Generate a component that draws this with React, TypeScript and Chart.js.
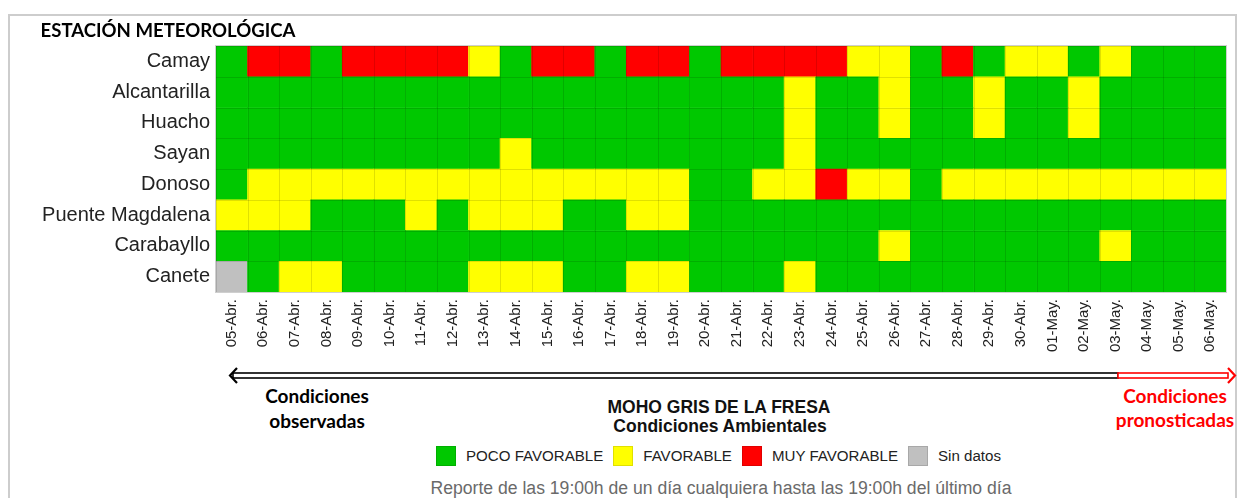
import React, { useEffect, useRef } from 'react';
import { Chart, registerables } from 'chart.js';

Chart.register(...registerables);

const dates = [
  '05-Abr.', '06-Abr.', '07-Abr.', '08-Abr.', '09-Abr.', '10-Abr.', '11-Abr.', '12-Abr.',
  '13-Abr.', '14-Abr.', '15-Abr.', '16-Abr.', '17-Abr.', '18-Abr.', '19-Abr.', '20-Abr.',
  '21-Abr.', '22-Abr.', '23-Abr.', '24-Abr.', '25-Abr.', '26-Abr.', '27-Abr.', '28-Abr.',
  '29-Abr.', '30-Abr.', '01-May.', '02-May.', '03-May.', '04-May.', '05-May.', '06-May.',
];

// top-to-bottom order as shown
const stations = ['Camay', 'Alcantarilla', 'Huacho', 'Sayan', 'Donoso', 'Puente Magdalena', 'Carabayllo', 'Canete'];

// 0 = POCO FAVORABLE, 1 = FAVORABLE, 2 = MUY FAVORABLE, 3 = Sin datos
const camay =        [0,2,2,0,2,2,2,2,1,0,2,2,0,2,2,0,2,2,2,2,1,1,0,2,0,1,1,0,1,0,0,0];
const alcantarilla = [0,0,0,0,0,0,0,0,0,0,0,0,0,0,0,0,0,0,1,0,0,1,0,0,1,0,0,1,0,0,0,0];
const huacho =       [0,0,0,0,0,0,0,0,0,0,0,0,0,0,0,0,0,0,1,0,0,1,0,0,1,0,0,1,0,0,0,0];
const sayan =        [0,0,0,0,0,0,0,0,0,1,0,0,0,0,0,0,0,0,1,0,0,0,0,0,0,0,0,0,0,0,0,0];
const donoso =       [0,1,1,1,1,1,1,1,1,1,1,1,1,1,1,0,0,1,1,2,1,1,0,1,1,1,1,1,1,1,1,1];
const puenteMagdalena = [1,1,1,0,0,0,1,0,1,1,1,0,0,1,1,0,0,0,0,0,0,0,0,0,0,0,0,0,0,0,0,0];
const carabayllo =   [0,0,0,0,0,0,0,0,0,0,0,0,0,0,0,0,0,0,0,0,0,1,0,0,0,0,0,0,1,0,0,0];
const canete =       [3,0,1,1,0,0,0,0,1,1,1,0,0,1,1,0,0,0,1,0,0,0,0,0,0,0,0,0,0,0,0,0];

const statusRows = [camay, alcantarilla, huacho, sayan, donoso, puenteMagdalena, carabayllo, canete];

const statusNames = ['POCO FAVORABLE', 'FAVORABLE', 'MUY FAVORABLE', 'Sin datos'];
const statusColors = ['#00C800', '#FFFF00', '#FF0000', '#C0C0C0'];

const cellLines = {
  id: 'cellLines',
  afterDatasetsDraw(chart: any) {
    const { ctx, chartArea, scales } = chart;
    ctx.save();
    ctx.strokeStyle = 'rgba(0,0,0,0.12)';
    ctx.lineWidth = 1;
    ctx.beginPath();
    for (let i = 0; i <= stations.length; i++) {
      const y = Math.round(scales.y.getPixelForValue(i)) + 0.5;
      ctx.moveTo(chartArea.left, y);
      ctx.lineTo(chartArea.right, y);
    }
    for (let i = 0; i <= dates.length; i++) {
      const x = Math.round(scales.x.getPixelForValue(i - 0.5)) + 0.5;
      ctx.moveTo(x, chartArea.top);
      ctx.lineTo(x, chartArea.bottom);
    }
    ctx.stroke();
    ctx.strokeStyle = '#cfcfcf';
    ctx.strokeRect(chartArea.left - 0.5, chartArea.top - 0.5, chartArea.right - chartArea.left + 1, chartArea.bottom - chartArea.top + 1);
    ctx.restore();
  },
};

function HeatChart() {
  const ref = useRef<HTMLCanvasElement | null>(null);
  useEffect(() => {
    if (!ref.current) return;
    const bottomUp = stations.slice().reverse();
    const rowsBottomUp = statusRows.slice().reverse();
    const chart = new Chart(ref.current, {
      type: 'bar',
      data: {
        labels: dates,
        datasets: bottomUp.map((name, i) => ({
          label: name,
          data: dates.map(() => 1),
          backgroundColor: rowsBottomUp[i].map((s) => statusColors[s]),
          borderWidth: 0,
          barPercentage: 1,
          categoryPercentage: 1,
        })),
      },
      options: {
        responsive: false,
        animation: false,
        events: [],
        layout: { padding: { top: 46, right: 12, left: 0, bottom: 0 } },
        plugins: { legend: { display: false }, tooltip: { enabled: false }, title: { display: false } },
        scales: {
          x: {
            stacked: true,
            grid: { display: false, drawTicks: false },
            border: { display: false },
            ticks: {
              minRotation: 90,
              maxRotation: 90,
              autoSkip: false,
              padding: 7,
              color: '#222',
              font: { family: 'Liberation Sans, Arial, sans-serif', size: 15 },
            },
            afterFit: (scale: any) => { scale.height = 68; },
          },
          y: {
            stacked: true,
            min: 0,
            max: stations.length,
            grid: { display: false, drawTicks: false },
            border: { display: false },
            afterBuildTicks: (scale: any) => {
              scale.ticks = bottomUp.map((_, i) => ({ value: i + 0.5 }));
            },
            ticks: {
              padding: 6,
              color: '#222',
              font: { family: 'Liberation Sans, Arial, sans-serif', size: 20 },
              callback: (value: any) => bottomUp[Math.floor(Number(value))],
            },
            afterFit: (scale: any) => { scale.width = 216; },
          },
        },
      },
      plugins: [cellLines],
    });
    return () => chart.destroy();
  }, []);
  return <canvas ref={ref} width={1238} height={360} style={{ position: 'absolute', left: 0, top: 0 }} />;
}

const centered = (x: number, y: number, extra: React.CSSProperties): React.CSSProperties => ({
  position: 'absolute',
  left: x,
  top: y,
  transform: 'translate(-50%, -50%)',
  whiteSpace: 'nowrap',
  lineHeight: 1,
  ...extra,
});

const calibri: React.CSSProperties = { fontFamily: 'Lato, "Open Sans", sans-serif', fontWeight: 700, fontSize: 19 };
const arial = 'Liberation Sans, Arial, sans-serif';

export default function App() {
  return (
    <div style={{ position: 'fixed', left: 0, top: 0, width: 1238, height: 498, background: '#fff', overflow: 'hidden' }}>
      <div style={{ position: 'absolute', left: 8, top: 14, width: 1225, height: 520, border: '2px solid #cdcdcd' }} />
      <HeatChart />
      <div style={centered(168, 30, { ...calibri, fontSize: 18.6, color: '#000' })}>ESTACIÓN METEOROLÓGICA</div>

      <svg width={1238} height={30} style={{ position: 'absolute', left: 0, top: 361 }}>
        <rect x={233} y={12} width={885} height={5} fill="#fff" stroke="#000" strokeWidth={1.6} />
        <polyline points="237,7 230,14.5 237,22" fill="none" stroke="#000" strokeWidth={2.2} />
        <rect x={1118} y={12} width={110} height={5} fill="#fff" stroke="#f00" strokeWidth={1.6} />
        <polyline points="1228,7 1235,14.5 1228,22" fill="none" stroke="#f00" strokeWidth={2.2} />
      </svg>

      <div style={centered(317, 395, { ...calibri, color: '#000' })}>Condiciones</div>
      <div style={centered(317, 420, { ...calibri, color: '#000' })}>observadas</div>
      <div style={centered(1175, 395, { ...calibri, color: '#f00' })}>Condiciones</div>
      <div style={centered(1175, 419, { ...calibri, color: '#f00' })}>pronosticadas</div>

      <div style={centered(719, 408, { fontFamily: arial, fontWeight: 700, fontSize: 17.5, color: '#111' })}>MOHO GRIS DE LA FRESA</div>
      <div style={centered(720, 427, { fontFamily: arial, fontWeight: 700, fontSize: 17.5, color: '#111' })}>Condiciones Ambientales</div>

      <div style={{ position: 'absolute', left: 436, top: 446, display: 'flex', alignItems: 'center', fontFamily: arial, fontSize: 15.1, color: '#222', whiteSpace: 'nowrap' }}>
        {statusNames.map((name, i) => (
          <React.Fragment key={name}>
            <span style={{ display: 'inline-block', width: 20, height: 20, boxSizing: 'border-box', background: statusColors[i], border: '1px solid rgba(0,0,0,0.12)', marginRight: 10 }} />
            <span style={{ marginRight: 10, lineHeight: '20px' }}>{name}</span>
          </React.Fragment>
        ))}
      </div>

      <div style={centered(721, 489, { fontFamily: arial, fontSize: 17.6, color: '#6a6a6a' })}>
        Reporte de las 19:00h de un día cualquiera hasta las 19:00h del último día
      </div>
    </div>
  );
}
